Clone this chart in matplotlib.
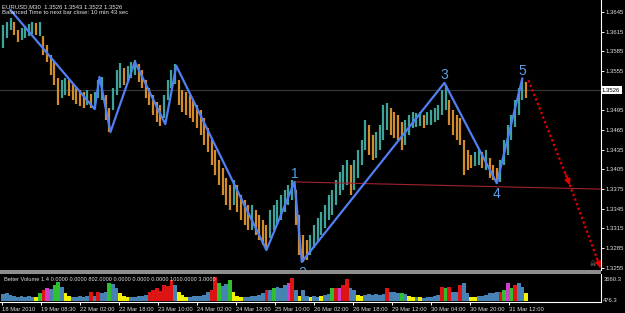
import matplotlib
matplotlib.use('Agg')
import matplotlib.pyplot as plt
import matplotlib.transforms as mtransforms
from matplotlib.patches import Rectangle
import numpy as np

plt.rcParams['font.family'] = ['Liberation Sans', 'DejaVu Sans']

# ---------------- data ----------------
symbol_line = "EURUSD,M30  1.3526 1.3543 1.3522 1.3526"
timer_line = "Balanced Time to next bar close: 10 min 43 sec"
volume_title = "Better Volume 1.4 0.0000 0.0000 802.0000 0.0000 0.0000 0.0000 1010.0000 3.0000"

# price ranges, each entry = 3 consecutive M30 bars
highs = [1.3625, 1.3630, 1.3636, 1.3630, 1.3618, 1.3621, 1.3624, 1.3627, 1.3630, 1.3628,
         1.3630, 1.3608, 1.3595, 1.3579, 1.3569, 1.3545, 1.3541, 1.3545, 1.3541, 1.3535,
         1.3529, 1.3526, 1.3523, 1.3526, 1.3520, 1.3523, 1.3541, 1.3546, 1.3518, 1.3499,
         1.3529, 1.3557, 1.3567, 1.3560, 1.3563, 1.3569, 1.3572, 1.3566, 1.3557, 1.3541,
         1.3529, 1.3518, 1.3508, 1.3503, 1.3518, 1.3541, 1.3557, 1.3566, 1.3541, 1.3526,
         1.3523, 1.3518, 1.3511, 1.3503, 1.3496, 1.3483, 1.3468, 1.3450, 1.3435, 1.3419,
         1.3407, 1.3392, 1.3381, 1.3389, 1.3381, 1.3366, 1.3358, 1.3351, 1.3351, 1.3343,
         1.3336, 1.3328, 1.3320, 1.3343, 1.3351, 1.3358, 1.3366, 1.3374, 1.3381, 1.3389,
         1.3374, 1.3336, 1.3305, 1.3297, 1.3305, 1.3320, 1.3331, 1.3340, 1.3351, 1.3366,
         1.3374, 1.3389, 1.3401, 1.3412, 1.3419, 1.3412, 1.3419, 1.3435, 1.3450, 1.3480,
         1.3473, 1.3457, 1.3462, 1.3473, 1.3503, 1.3506, 1.3499, 1.3493, 1.3488, 1.3477,
         1.3480, 1.3488, 1.3493, 1.3491, 1.3493, 1.3488, 1.3493, 1.3496, 1.3499, 1.3503,
         1.3526, 1.3534, 1.3511, 1.3496, 1.3488, 1.3483, 1.3450, 1.3435, 1.3427, 1.3432,
         1.3435, 1.3432, 1.3435, 1.3423, 1.3412, 1.3407, 1.3419, 1.3450, 1.3473, 1.3488,
         1.3511, 1.3529, 1.3541, 1.3538]
lows = [1.3590, 1.3605, 1.3618, 1.3610, 1.3599, 1.3602, 1.3605, 1.3608, 1.3611, 1.3610,
        1.3608, 1.3579, 1.3569, 1.3549, 1.3534, 1.3503, 1.3514, 1.3518, 1.3517, 1.3511,
        1.3505, 1.3502, 1.3499, 1.3503, 1.3499, 1.3497, 1.3514, 1.3511, 1.3480, 1.3462,
        1.3496, 1.3518, 1.3529, 1.3534, 1.3538, 1.3545, 1.3549, 1.3538, 1.3529, 1.3514,
        1.3503, 1.3488, 1.3477, 1.3471, 1.3483, 1.3511, 1.3529, 1.3535, 1.3503, 1.3493,
        1.3488, 1.3483, 1.3477, 1.3468, 1.3457, 1.3442, 1.3432, 1.3412, 1.3397, 1.3381,
        1.3366, 1.3351, 1.3343, 1.3351, 1.3340, 1.3328, 1.3320, 1.3313, 1.3313, 1.3305,
        1.3297, 1.3290, 1.3282, 1.3301, 1.3313, 1.3320, 1.3328, 1.3340, 1.3351, 1.3358,
        1.3320, 1.3275, 1.3264, 1.3267, 1.3275, 1.3285, 1.3294, 1.3305, 1.3316, 1.3328,
        1.3336, 1.3351, 1.3366, 1.3374, 1.3381, 1.3366, 1.3374, 1.3392, 1.3412, 1.3435,
        1.3427, 1.3419, 1.3423, 1.3435, 1.3450, 1.3465, 1.3457, 1.3453, 1.3450, 1.3435,
        1.3442, 1.3457, 1.3468, 1.3470, 1.3471, 1.3468, 1.3473, 1.3473, 1.3477, 1.3480,
        1.3488, 1.3496, 1.3473, 1.3457, 1.3450, 1.3442, 1.3397, 1.3404, 1.3407, 1.3410,
        1.3412, 1.3407, 1.3404, 1.3392, 1.3389, 1.3384, 1.3386, 1.3412, 1.3427, 1.3450,
        1.3470, 1.3488, 1.3511, 1.3514]

volumes = [1050, 1200, 900, 750, 600, 750, 600, 750, 600, 600,
           1200, 1650, 1950, 1800, 2400, 2850, 2100, 1200, 750, 600,
           600, 750, 600, 750, 1350, 750, 1350, 1200, 1350, 2700,
           2550, 1950, 1200, 750, 600, 600, 600, 750, 750, 900,
           1350, 1650, 1950, 1500, 2400, 2250, 3150, 2400, 1350, 900,
           600, 600, 750, 750, 750, 900, 1350, 1650, 3660, 2700,
           2250, 2550, 3150, 1350, 750, 600, 600, 600, 750, 750,
           900, 1200, 1650, 1650, 1950, 2100, 1950, 2400, 2700, 3450,
           1650, 750, 1650, 750, 600, 750, 600, 750, 900, 1050,
           1950, 1950, 1950, 2400, 3300, 1950, 1650, 900, 750, 900,
           1050, 900, 1050, 900, 1050, 1950, 1350, 1350, 1200, 1200,
           1050, 750, 600, 600, 600, 476, 600, 600, 750, 900,
           2100, 1950, 2100, 1350, 1350, 2400, 2700, 1200, 600, 600,
           750, 750, 900, 1200, 1200, 1350, 1350, 1650, 2700, 1950,
           2400, 2700, 2100, 1200]
volume_kinds = list("bbbbbbbbby" "grmbggbyyb" "bbbbrbrbbg" "bbyyybbbbb"
                    "rrrrrrrbyy" "ybbbbbbrrg" "bbgyyybbbb" "bbrbgbbbmr"
                    "bybbybbybb" "grmrrbbyyb" "bbbbbrbbbg" "byybybbbbb"
                    "rgrbbrbbyy" "bbbbbbrgmg" "rbby")

# wave (zigzag) vertices: bar index, price
wave_x = [7, 76, 80, 89, 109, 134, 143, 217, 240, 246, 363, 406, 427]
wave_y = [1.3648, 1.3497, 1.3546, 1.3462, 1.3569, 1.3474, 1.3563,
          1.3282, 1.3386, 1.3264, 1.3537, 1.3384, 1.3544]
wave_labels = ['1', '2', '3', '4', '5']
wave_label_pts = [8, 9, 10, 11, 12]           # which vertices carry labels
wave_label_above = [True, False, True, False, True]

trend_x = [240, 491]
trend_y = [1.3386, 1.3375]

proj_x = [432, 466, 491]
proj_y = [1.3541, 1.3381, 1.3255]

last_price = 1.3526
price_ticks = [1.3645, 1.3615, 1.3585, 1.3555, 1.3495, 1.3465, 1.3435,
               1.3405, 1.3375, 1.3345, 1.3315, 1.3285, 1.3255]
time_tick_bars = [0, 32, 64, 96, 128, 160, 192, 224, 256, 288, 320, 352, 384, 416]
time_tick_labels = ["18 Mar 2010", "19 Mar 08:30", "22 Mar 02:00", "22 Mar 18:00",
                    "23 Mar 10:00", "24 Mar 02:00", "24 Mar 18:00", "25 Mar 10:00",
                    "26 Mar 02:00", "26 Mar 18:00", "29 Mar 12:00", "30 Mar 04:00",
                    "30 Mar 20:00", "31 Mar 12:00"]
vol_scale_ticks = [3660.3, 476.3]

# ---------------- layout ----------------
W, H = 625, 313
fig = plt.figure(figsize=(6.25, 3.13), dpi=100, facecolor='black')

def fx(px):
    return px / W

def fy(py):
    return 1 - py / H

PX_PER_BAR = 39 / 32.0
X0_PX = 2.0
RIGHT_PX = 600.5
xlim = (-X0_PX / PX_PER_BAR, (RIGHT_PX - X0_PX) / PX_PER_BAR)

PX_PER_PRICE = 6560.0
REF_PRICE, REF_PX = 1.3645, 12.0
MAIN_BOTTOM_PX = 270.0

ax = fig.add_axes([0, fy(MAIN_BOTTOM_PX), fx(RIGHT_PX), MAIN_BOTTOM_PX / H])
ax.set_facecolor('black')
ax.set_xlim(*xlim)
ax.set_ylim(REF_PRICE - (MAIN_BOTTOM_PX - REF_PX) / PX_PER_PRICE,
            REF_PRICE + REF_PX / PX_PER_PRICE)

UP_COL = '#3ea39a'
DN_COL = '#d28c2c'

n = len(highs)
centers = np.arange(n) * 3 + 1
mids = [(h + l) / 2 for h, l in zip(highs, lows)]
bar_cols = [UP_COL if i == 0 or mids[i] >= mids[i - 1] else DN_COL for i in range(n)]

# current bid line
ax.axhline(last_price, color='#3a3a3a', lw=0.8, zorder=1)

ax.vlines(centers, lows, highs, colors=bar_cols, linewidth=1.6, zorder=2)

# wave lines
WAVE_COL = '#4f7ff2'
ax.plot(wave_x, wave_y, color=WAVE_COL, lw=1.6, zorder=4, solid_capstyle='round')
for lab, idx, above in zip(wave_labels, wave_label_pts, wave_label_above):
    ax.annotate(lab, (wave_x[idx], wave_y[idx]), xytext=(0, 0.5 if above else -3),
                textcoords='offset points', ha='center',
                va='bottom' if above else 'top', color='#5a9ee8', fontsize=10,
                zorder=5, annotation_clip=False)

# trend line
ax.plot(trend_x, trend_y, color='#a3222e', lw=0.8, zorder=3)

# projection arrows
PROJ_COL = '#e80000'
ax.plot(proj_x, proj_y, color=PROJ_COL, lw=1.6, ls=(0, (1, 1.2)), zorder=5, clip_on=False)
for i in range(1, len(proj_x)):
    x0, y0 = proj_x[i - 1], proj_y[i - 1]
    x1, y1 = proj_x[i], proj_y[i]
    xs = x1 - (x1 - x0) * 0.12
    ys = y1 - (y1 - y0) * 0.12
    ax.annotate('', xy=(x1, y1), xytext=(xs, ys),
                arrowprops=dict(arrowstyle='-|>', color=PROJ_COL, lw=1.0,
                                mutation_scale=9, shrinkA=0, shrinkB=0),
                zorder=6, annotation_clip=False)

# right price axis
for s in ['top', 'left', 'bottom']:
    ax.spines[s].set_visible(False)
ax.spines['right'].set_color('white')
ax.spines['right'].set_linewidth(0.8)
ax.set_xticks([])
ax.yaxis.tick_right()
ax.set_yticks(price_ticks)
ax.set_yticklabels(['%.4f' % p for p in price_ticks])
ax.tick_params(axis='y', colors='white', length=2.2, width=0.7, pad=1.5,
               labelsize=4.3, labelcolor='#e0e0e0')

trans = mtransforms.blended_transform_factory(ax.transAxes, ax.transData)
ax.text(1.0 + 1.5 / RIGHT_PX, last_price, '%.4f' % last_price, transform=trans,
        ha='left', va='center', fontsize=4.3, color='black', zorder=10, clip_on=False,
        bbox=dict(boxstyle='square,pad=0.25', fc='white', ec='white', lw=0))

ax.text(1.0 - 8 / RIGHT_PX, proj_y[-1] + 4 / PX_PER_PRICE, '\u2620', transform=trans,
        ha='center', va='center', fontsize=5, color='#8a8a8a',
        family=['DejaVu Sans'], zorder=6)

# headers
fig.text(fx(2), fy(6.5), symbol_line, ha='left', va='center', fontsize=4.3, color='#e6e6e6')
fig.text(fx(2), fy(13), timer_line, ha='left', va='center', fontsize=4.3, color='#e6e6e6')

# separator between panes
fig.patches.append(Rectangle((0, fy(273.8)), fx(RIGHT_PX), 3.4 / H,
                             transform=fig.transFigure, fc='#8e8e8e', ec='none'))

# ---------------- volume pane ----------------
VOL_TOP_PX, VOL_BOT_PX = 274.0, 302.0
PX_PER_VOL = 1 / 150.0
ax2 = fig.add_axes([0, fy(VOL_BOT_PX), fx(RIGHT_PX), (VOL_BOT_PX - VOL_TOP_PX) / H])
ax2.set_facecolor('black')
ax2.set_xlim(*xlim)
ax2.set_ylim(-1 / PX_PER_VOL, (VOL_BOT_PX - 1 - VOL_TOP_PX) / PX_PER_VOL)

kind_col = {'b': '#4682b4', 'y': '#f2f200', 'g': '#2fc02f', 'r': '#dc1414', 'm': '#d23cc8'}
ax2.bar(centers, volumes, width=3.0, color=[kind_col[k] for k in volume_kinds],
        linewidth=0, zorder=2)

ax2.text(4 / RIGHT_PX, 0.79, volume_title, transform=ax2.transAxes, ha='left',
         va='center', fontsize=4.1, color='#e0e0e0', zorder=5)

for s in ['top', 'left']:
    ax2.spines[s].set_visible(False)
for s in ['right', 'bottom']:
    ax2.spines[s].set_color('white')
    ax2.spines[s].set_linewidth(0.8)

ax2.yaxis.tick_right()
ax2.set_yticks(vol_scale_ticks)
ax2.set_yticklabels(['%.1f' % v for v in vol_scale_ticks])
ax2.tick_params(axis='y', colors='white', length=0, pad=2, labelsize=4.2,
                labelcolor='#e0e0e0')
for lbl in ax2.get_yticklabels():
    lbl.set_verticalalignment('top')

ax2.set_xticks(time_tick_bars)
ax2.set_xticklabels(time_tick_labels)
ax2.tick_params(axis='x', colors='white', length=2.5, width=0.7, pad=1.2,
                labelsize=4.2, labelcolor='#e0e0e0')
for lbl in ax2.get_xticklabels():
    lbl.set_horizontalalignment('left')

fig.savefig('out.png', dpi=100, facecolor='black')
